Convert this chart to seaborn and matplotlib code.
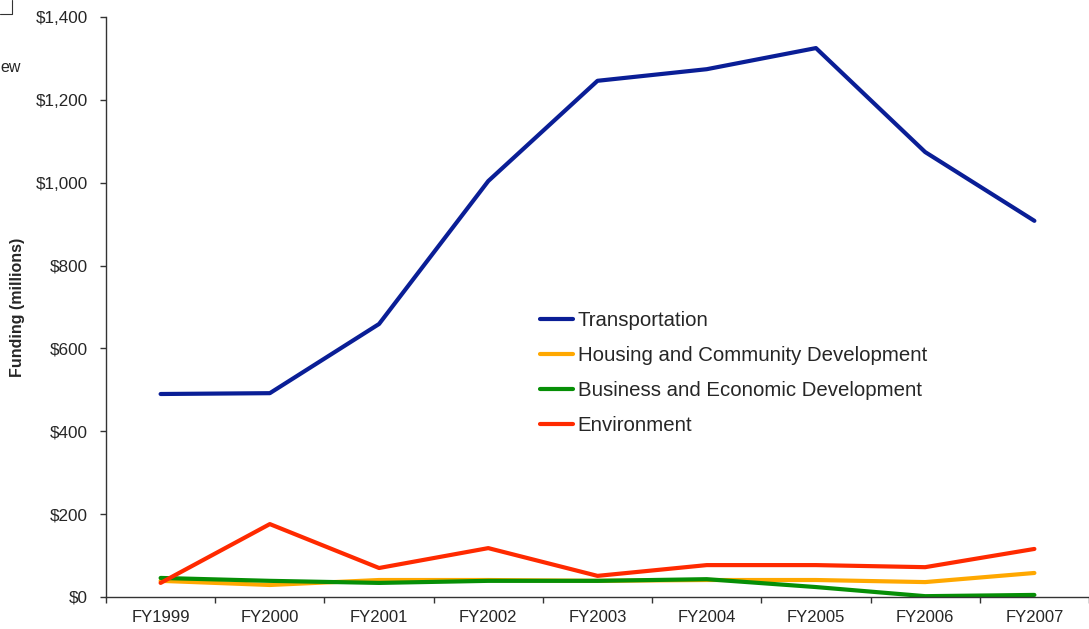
import numpy as np
import pandas as pd
import matplotlib
matplotlib.use("Agg")
import matplotlib.pyplot as plt
import seaborn as sns
from matplotlib.lines import Line2D

years = ["FY1999", "FY2000", "FY2001", "FY2002", "FY2003", "FY2004", "FY2005", "FY2006", "FY2007"]
transportation = [490, 492, 659, 1004, 1246, 1274, 1325, 1074, 908]
housing = [39, 29, 41, 41, 39, 41, 41, 36, 58]
business = [46, 39, 34, 39, 39, 43, 24, 2, 5]
environment = [34, 176, 70, 118, 51, 77, 77, 72, 116]

series_names = ["Transportation", "Housing and Community Development",
                "Business and Economic Development", "Environment"]
colors = ["#0A1E96", "#FFA800", "#068F06", "#FF2A00"]

# long form table for seaborn
df = pd.DataFrame({
    "idx": list(range(len(years))) * 4,
    "value": transportation + housing + business + environment,
    "series": np.repeat(series_names, len(years)),
})

sns.set_style("white")
plt.rcParams["font.family"] = ["Liberation Sans", "DejaVu Sans"]

fig = plt.figure(figsize=(10.89, 6.29), dpi=100)
ax = fig.add_axes([106 / 1089, 32 / 629, 983 / 1089, 580 / 629])

sns.lineplot(data=df, x="idx", y="value", hue="series", hue_order=series_names,
             palette=colors, linewidth=3.0, ax=ax, legend=False)

ax.set_xlim(-0.5, len(years) - 0.5)
ax.set_ylim(0, 1400)
ax.set_yticks(np.arange(0, 1401, 200))
ax.set_yticklabels([f"${v:,}" for v in range(0, 1401, 200)], fontsize=12.3)

# category boundaries get the tick marks, labels sit in the middle
ax.set_xticks(np.arange(-0.5, len(years)))
ax.set_xticklabels([])
ax.set_xticks(np.arange(len(years)), minor=True)
ax.set_xticklabels(years, minor=True, fontsize=12)
ax.tick_params(axis="x", which="major", direction="out", length=4, width=1, color="#333333", bottom=True)
ax.tick_params(axis="x", which="minor", length=0, pad=9)
ax.tick_params(axis="y", direction="out", length=4.5, width=1, color="#333333", left=True, pad=8.5)

for s in ["top", "right"]:
    ax.spines[s].set_visible(False)
for s in ["left", "bottom"]:
    ax.spines[s].set_color("#333333")
    ax.spines[s].set_linewidth(1)

ax.set_xlabel("")
ax.set_ylabel("")
fig.text(18 / 1089, 1 - 307 / 629, "Funding (millions)", rotation=90, ha="center", va="center",
         fontsize=11.5, fontweight="bold")

handles = [Line2D([], [], color=c, linewidth=3.0) for c in colors]
ax.legend(handles, series_names, loc="upper left", bbox_to_anchor=(540 / 1089, 1 - 311 / 629),
          bbox_transform=fig.transFigure, frameon=False, fontsize=14.7, handlelength=1.6,
          handletextpad=0.25, labelspacing=0.79, borderpad=0, borderaxespad=0)

# stray bits from the source page
fig.text(0 / 1089, 1 - 67 / 629, "ew", fontsize=11.5, va="center", ha="left")
fig.add_artist(Line2D([0, 12 / 1089, 12 / 1089], [1 - 14 / 629, 1 - 14 / 629, 1.0],
                      transform=fig.transFigure, color="#333333", linewidth=0.8))

fig.savefig("out.png", dpi=100)
